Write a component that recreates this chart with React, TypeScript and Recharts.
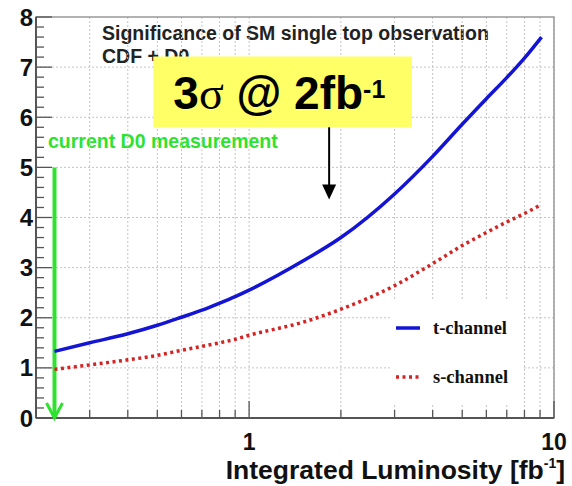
import {
  LineChart,
  Line,
  XAxis,
  YAxis,
  CartesianGrid,
  ReferenceArea,
  ReferenceLine,
  ReferenceDot,
  Legend,
} from "recharts";

// integrated luminosity [fb^-1] and expected significance
const lumi = [0.23, 0.3, 0.4, 0.5, 0.6, 0.7, 0.8, 0.9, 1, 1.5, 2, 3, 4, 5, 6, 7, 8, 9.1];
const tChannel = [1.33, 1.5, 1.68, 1.85, 2.01, 2.15, 2.29, 2.42, 2.55, 3.13, 3.6, 4.47, 5.22, 5.86, 6.37, 6.79, 7.18, 7.6];
const sChannel = [0.97, 1.06, 1.16, 1.25, 1.35, 1.43, 1.5, 1.57, 1.65, 1.91, 2.17, 2.64, 3.08, 3.44, 3.7, 3.91, 4.08, 4.26];

const xTicks = [0.3, 0.4, 0.5, 0.6, 0.7, 0.8, 0.9, 1, 2, 3, 4, 5, 6, 7, 8, 9, 10];
const xLabels = [1, 10];
const yLabels = [0, 1, 2, 3, 4, 5, 6, 7, 8];
const yTicks = yLabels.flatMap((v, i) =>
  i < yLabels.length - 1 ? [v, v + 0.2, v + 0.4, v + 0.6, v + 0.8] : [v]
);
const gridY = [1, 2, 3, 4, 5, 6, 7];

const d0Lumi = 0.23; // current D0 measurement
const arrowLumi = 1.83;

const data = lumi.map((x, i) => ({ lumi: x, t: tChannel[i], s: sChannel[i] }));

const SANS = "'Liberation Sans', Arial, sans-serif";
const SERIF = "'Liberation Serif', 'Times New Roman', serif";
const BLUE = "#1414d4";
const RED = "#d42424";
const GREEN = "#2fe22f";

function XTick(props: any) {
  const { x, y, payload } = props;
  const major = xLabels.includes(payload.value);
  return (
    <g>
      <line x1={x} x2={x} y1={y} y2={y - (major ? 17 : 8)} stroke="#555" strokeWidth={1.3} />
      {major && (
        <text x={x} y={y + 32} textAnchor="middle" fontFamily={SANS} fontWeight="bold" fontSize={23} fill="#111">
          {payload.value}
        </text>
      )}
    </g>
  );
}

function YTick(props: any) {
  const { x, y, payload } = props;
  const v = payload.value;
  const major = Math.abs(v - Math.round(v)) < 1e-6;
  return (
    <g>
      <line x1={x} x2={x + (major ? 16 : 8)} y1={y} y2={y} stroke="#555" strokeWidth={1.3} />
      {major && (
        <text x={x - 3} y={y + 8.5} textAnchor="end" fontFamily={SANS} fontWeight="bold" fontSize={24} fill="#111">
          {Math.round(v)}
        </text>
      )}
    </g>
  );
}

function XTitle(props: any) {
  const vb = props.viewBox;
  return (
    <text x={vb.x + vb.width + 11} y={vb.y + 61} textAnchor="end" fontFamily={SANS} fontWeight="bold" fontSize={26.5} fill="#111">
      Integrated Luminosity [fb
      <tspan fontSize={14} dy={-11}>-1</tspan>
      <tspan dy={11}>]</tspan>
    </text>
  );
}

function BoxLabel(props: any) {
  const vb = props.viewBox;
  return (
    <text x={vb.x + 20} y={vb.y + 52} fontFamily={SANS} fontWeight="bold" fontSize={46} fill="#000">
      3<tspan fontFamily={SERIF} fontWeight="normal">σ</tspan> @ 2fb
      <tspan fontSize={25} dy={-11}>-1</tspan>
    </text>
  );
}

function GreenHead(props: any) {
  const { cx, cy } = props;
  return (
    <polyline
      points={`${cx - 8},${cy - 15} ${cx},${cy} ${cx + 8},${cy - 15}`}
      fill="none"
      stroke={GREEN}
      strokeWidth={3}
    />
  );
}

function BlackHead(props: any) {
  const { cx, cy } = props;
  return <polygon points={`${cx - 7},${cy - 15} ${cx + 7},${cy - 15} ${cx},${cy}`} fill="#000" />;
}

function LegendBox() {
  return (
    <svg width={130} height={105}>
      <line x1={4} x2={28} y1={28} y2={28} stroke={BLUE} strokeWidth={3.5} />
      <text x={41} y={34} fontFamily={SERIF} fontWeight="bold" fontSize={18.5} fill="#111">
        t-channel
      </text>
      <line x1={4} x2={28} y1={77} y2={77} stroke={RED} strokeWidth={3.5} strokeDasharray="3 3.5" />
      <text x={41} y={83} fontFamily={SERIF} fontWeight="bold" fontSize={18.5} fill="#111">
        s-channel
      </text>
    </svg>
  );
}

export default function App() {
  return (
    <div style={{ position: "absolute", left: 0, top: 0, width: 572, height: 486, background: "#fff" }}>
      <svg width={572} height={486} style={{ position: "absolute", left: 0, top: 0 }}>
        <text x={102} y={40} fontFamily={SANS} fontWeight="bold" fontSize={19.5} fill="#222">
          Significance of SM single top observation
        </text>
        <text x={102} y={63} fontFamily={SANS} fontWeight="bold" fontSize={19.5} fill="#222">
          CDF + D0
        </text>
        <text x={48} y={148} fontFamily={SANS} fontWeight="bold" fontSize={19.5} fill={GREEN}>
          current D0 measurement
        </text>
      </svg>
      <div style={{ position: "absolute", left: 0, top: 0 }}>
        <LineChart width={572} height={486} data={data} margin={{ top: 17, right: 18, bottom: 0, left: 0 }}>
          <CartesianGrid
            stroke="#c4c4c4"
            strokeDasharray="2 2"
            horizontalValues={gridY}
            verticalValues={xTicks}
          />
          <XAxis
            dataKey="lumi"
            type="number"
            scale="log"
            domain={[0.2, 10]}
            allowDataOverflow
            ticks={xTicks}
            interval={0}
            tick={<XTick />}
            tickLine={false}
            tickSize={0}
            tickMargin={0}
            height={68}
            axisLine={{ stroke: "#555", strokeWidth: 2 }}
            label={<XTitle />}
          />
          <YAxis
            type="number"
            domain={[0, 8]}
            ticks={yTicks}
            interval={0}
            tick={<YTick />}
            tickLine={false}
            tickSize={0}
            tickMargin={0}
            width={36}
            axisLine={{ stroke: "#555", strokeWidth: 2 }}
          />
          <ReferenceArea x1={0.2} x2={10} y1={0} y2={8} fill="none" stroke="#999" strokeWidth={1.5} />
          <ReferenceArea
            x1={0.485}
            x2={3.42}
            y1={5.8}
            y2={7.21}
            fill="#ffff66"
            fillOpacity={1}
            stroke="none"
            label={<BoxLabel />}
          />
          <ReferenceLine
            segment={[{ x: arrowLumi, y: 5.8 }, { x: arrowLumi, y: 4.62 }]}
            stroke="#000"
            strokeWidth={2}
          />
          <ReferenceDot x={arrowLumi} y={4.36} r={0} shape={<BlackHead />} />
          <ReferenceLine
            segment={[{ x: d0Lumi, y: 5 }, { x: d0Lumi, y: 0.02 }]}
            stroke={GREEN}
            strokeWidth={4}
          />
          <ReferenceDot x={d0Lumi} y={0} r={0} shape={<GreenHead />} />
          <Line
            type="monotone"
            dataKey="t"
            name="t-channel"
            stroke={BLUE}
            strokeWidth={3.5}
            dot={false}
            isAnimationActive={false}
          />
          <Line
            type="monotone"
            dataKey="s"
            name="s-channel"
            stroke={RED}
            strokeWidth={3.5}
            strokeDasharray="3 3.5"
            dot={false}
            isAnimationActive={false}
          />
          <Legend
            layout="vertical"
            align="center"
            verticalAlign="middle"
            wrapperStyle={{ left: 392, top: 300, width: 130, height: 105, background: "#fff" }}
            content={() => <LegendBox />}
          />
        </LineChart>
      </div>
    </div>
  );
}
